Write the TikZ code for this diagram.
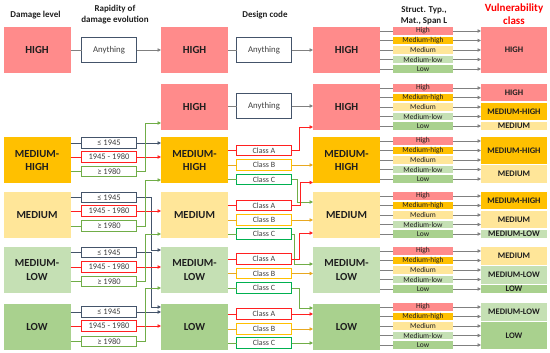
\documentclass[tikz,border=0pt]{standalone}
\usepackage{fontspec}
\setmainfont{Carlito}
\usetikzlibrary{arrows.meta,backgrounds,calc}
\definecolor{cHigh}{HTML}{FF8B8B}
\definecolor{cMH}{HTML}{FFC000}
\definecolor{cM}{HTML}{FFE699}
\definecolor{cML}{HTML}{C5E0B4}
\definecolor{cL}{HTML}{A9D18E}
\definecolor{cDark}{HTML}{44546A}
\definecolor{cRed}{HTML}{FF2020}
\definecolor{cGreen}{HTML}{70AD47}
\definecolor{cGreenB}{HTML}{00B050}
\definecolor{cOrange}{HTML}{E8A820}
\definecolor{cGrey}{HTML}{808080}
\definecolor{cText}{HTML}{1E1E1E}
\begin{document}
\begin{tikzpicture}[x=1pt,y=-1pt,
  lvl/.style={fill=#1, draw=none, minimum width=67pt, minimum height=46pt, inner sep=0pt, outer sep=0pt,
    font=\fontsize{10.8}{13.3}\selectfont\bfseries, align=center, text=cText},
  smallbox/.style={draw=#1, fill=white, line width=0.9pt, minimum width=55pt, minimum height=10.5pt,
    inner sep=0pt, outer sep=0pt, font=\fontsize{8.5}{9}\selectfont, text=black!75},
  classbox/.style={smallbox=#1, font=\fontsize{8}{9}\selectfont},
  anybox/.style={draw=cDark, fill=white, line width=0.9pt, minimum width=55pt, minimum height=25pt,
    inner sep=0pt, outer sep=0pt, font=\fontsize{8.8}{9}\selectfont, text=black!75},
  barbox/.style={fill=#1, minimum width=60pt, minimum height=7.6pt, inner sep=0pt, outer sep=0pt,
    font=\fontsize{7.5}{8}\selectfont, text=cText},
  vulbox/.style={fill=#1, minimum width=66pt, inner sep=0pt, outer sep=0pt,
    font=\fontsize{8.5}{9}\selectfont\bfseries, text=cText},
  hdr/.style={font=\fontsize{9}{11}\selectfont\bfseries, align=center, text=cText},
  ln/.style={line width=0.8pt, draw=#1},
  ar/.style={line width=0.8pt, draw=#1, -{Triangle[length=3.5pt,width=3.5pt]}}
]
\useasboundingbox (0,0) rectangle (550,353);

% headers
\node[hdr] (h1) at (35.5,15) {Damage level};
\node[hdr] (h2) at (115,14.5) {Rapidity of\\damage evolution};
\node[hdr] (h3) at (265,15) {Design code};
\node[hdr] (h4) at (424,15.5) {Struct. Typ.,\\Mat., Span L};
\node[font=\fontsize{11}{13}\selectfont\bfseries, align=center, text=red] (h5) at (514,14.5) {Vulnerability\\class};

% column 1: damage level
\node[lvl=cHigh] (d1) at (37,50) {HIGH};
\node[lvl=cMH] (dMH) at (37,160.5) {MEDIUM-\\HIGH};
\node[lvl=cM] (dM) at (37,215) {MEDIUM};
\node[lvl=cML] (dML) at (37,270) {MEDIUM-\\LOW};
\node[lvl=cL] (dL) at (37,326.5) {LOW};

% column 2: rapidity
\node[anybox] (a1) at (109,50) {Anything};
\foreach \g/\ya/\yb/\yc in {MH/143/157/171.5, M/197.5/211/226, ML/252.5/267/281.5, L/312/326/341.5}{
  \node[smallbox=cDark] (r\g1) at (109,\ya) {≤ 1945};
  \node[smallbox=cRed] (r\g2) at (109,\yb) {1945 - 1980};
  \node[smallbox=cGreen] (r\g3) at (109,\yc) {≥ 1980};
  \draw[ln=cDark] (r\g1 -| d\g.east) -- (r\g1.west);
  \draw[ln=cRed] (r\g2 -| d\g.east) -- (r\g2.west);
  \draw[ln=cGreen] (r\g3 -| d\g.east) -- (r\g3.west);
}

% column 3
\node[lvl=cHigh] (e1) at (194.5,50) {HIGH};
\node[lvl=cHigh] (e2) at (194.5,107) {HIGH};
\node[lvl=cMH] (eMH) at (194.5,160.5) {MEDIUM-\\HIGH};
\node[lvl=cM] (eM) at (194.5,215) {MEDIUM};
\node[lvl=cML] (eML) at (194.5,270) {MEDIUM-\\LOW};
\node[lvl=cL] (eL) at (194.5,326.5) {LOW};

% column 4
\node[anybox] (f1) at (264,50) {Anything};
\node[anybox] (f2) at (264,106) {Anything};
\foreach \g/\ya/\yb/\yc in {MH/150.5/165/179.5, M/205.5/220/234, ML/259/273.5/288, L/314/329/343}{
  \node[classbox=cRed] (c\g1) at (264,\ya) {Class A};
  \node[classbox=cMH] (c\g2) at (264,\yb) {Class B};
  \node[classbox=cGreenB] (c\g3) at (264,\yc) {Class C};
  \draw[ln=cRed] (c\g1 -| e\g.east) -- (c\g1.west);
  \draw[ln=cOrange] (c\g2 -| e\g.east) -- (c\g2.west);
  \draw[ln=cGreen] (c\g3 -| e\g.east) -- (c\g3.west);
}

% column 5
\node[lvl=cHigh] (g1) at (346.5,50) {HIGH};
\node[lvl=cHigh] (g2) at (346.5,107) {HIGH};
\node[lvl=cMH] (gMH) at (346.5,160.5) {MEDIUM-\\HIGH};
\node[lvl=cM] (gM) at (346.5,215) {MEDIUM};
\node[lvl=cML] (gML) at (346.5,270) {MEDIUM-\\LOW};
\node[lvl=cL] (gL) at (346.5,326.5) {LOW};

% column 6: bars
\foreach \g/\T in {1/27, 2/84, MH/137, M/192, ML/247, L/303}{
  \foreach \i/\lab/\col in {0/High/cHigh, 1/Medium-high/cMH, 2/Medium/cM, 3/Medium-low/cML, 4/Low/cL}{
    \node[barbox=\col] (b\g\i) at (423,{\T+4+9.5*\i}) {\lab};
  }
}

% column 7: vulnerability class
\node[vulbox=cHigh, minimum height=46pt] (v1) at (514,50) {HIGH};
\node[vulbox=cHigh, minimum height=17.5pt] (v2a) at (514,92.75) {HIGH};
\node[vulbox=cMH, minimum height=17.5pt] (v2b) at (514,111.75) {MEDIUM-HIGH};
\node[vulbox=cM, minimum height=8pt] (v2c) at (514,126) {MEDIUM};
\node[vulbox=cMH, minimum height=27pt] (vMHa) at (514,150.5) {MEDIUM-HIGH};
\node[vulbox=cM, minimum height=17.5pt] (vMHb) at (514,174.25) {MEDIUM};
\node[vulbox=cMH, minimum height=17.5pt] (vMa) at (514,200.75) {MEDIUM-HIGH};
\node[vulbox=cM, minimum height=17.5pt] (vMb) at (514,219.75) {MEDIUM};
\node[vulbox=cML, minimum height=8pt] (vMc) at (514,234) {MEDIUM-LOW};
\node[vulbox=cM, minimum height=17.5pt] (vMLa) at (514,255.75) {MEDIUM};
\node[vulbox=cML, minimum height=17.5pt] (vMLb) at (514,274.75) {MEDIUM-LOW};
\node[vulbox=cL, minimum height=8pt] (vMLc) at (514,289) {LOW};
\node[vulbox=cML, minimum height=17.5pt] (vLa) at (514,311.75) {MEDIUM-LOW};
\node[vulbox=cL, minimum height=27pt] (vLb) at (514,335.5) {LOW};

% grey lines through the bars
\begin{scope}[on background layer]
\foreach \g in {1,2,MH,M,ML,L}{
  \foreach \i in {0,...,4}{
    \draw[ar=cGrey] (b\g\i -| g\g.east) -- (b\g\i -| v1.west);
  }
}
\end{scope}

% row 1 and 2 (HIGH)
\draw[ln=cGrey] (d1.east) -- (a1.west);
\draw[ar=cGrey] (a1.east) -- (e1.west);
\draw[ln=cGrey] (e1.east) -- (f1.west);
\draw[ar=cGrey] (f1.east) -- (f1 -| g1.west);
\draw[ln=cGrey] (f2 -| e2.east) -- (f2.west);
\draw[ar=cGrey] (f2.east) -- (f2 -| g2.west);

% rapidity -> design level
\draw[ar=cDark] (rMH1.east) -- (rMH1 -| eMH.west);
\draw[ar=cRed] (rMH2.east) -- (rMH2 -| eMH.west);
\draw[ar=cGreen] (rMH3.east) -- ++(9,0) |- ($(e2.west)+(0,16)$);
\draw[ar=cDark] (rM1.east) -- ++(14.5,0) |- ($(eML.west)+(0,-20)$);
\draw[ar=cRed] (rM2.east) -- (rM2 -| eM.west);
\draw[ar=cGreen] (rM3.east) -- ++(9,0) |- ($(eMH.west)+(0,19.5)$);
\draw[ar=cDark] (rML1.east) -- ++(14.5,0) |- ($(eL.west)+(0,-19.5)$);
\draw[ar=cRed] (rML2.east) -- (rML2 -| eML.west);
\draw[ar=cGreen] (rML3.east) -- ++(9,0) |- ($(eM.west)+(0,19)$);
\draw[ar=cDark] (rL1.east) -- (rL1 -| eL.west);
\draw[ar=cRed] (rL2.east) -- (rL2 -| eL.west);
\draw[ar=cGreen] (rL3.east) -- ++(9,0) |- ($(eML.west)+(0,18)$);

% design code -> structural level
\draw[ar=cRed] (cMH1.east) -- ++(8,0) |- ($(g2.west)+(0,20)$);
\draw[ar=cOrange] (cMH2.east) -- (cMH2 -| gMH.west);
\draw[ar=cGreen] (cMH3.east) -- ++(6,0) |- ($(gM.west)+(0,-13)$);
\draw[ar=cRed] (cM1.east) -- ++(9,0) |- ($(gMH.west)+(0,22)$);
\draw[ar=cOrange] (cM2.east) -- (cM2 -| gM.west);
\draw[ar=cGreen] (cM3.east) -- ++(3,0) |- ($(gML.west)+(0,-6)$);
\draw[ar=cRed] (cML1.east) -- ++(8,0) |- ($(gM.west)+(0,18)$);
\draw[ar=cOrange] (cML2.east) -- (cML2 -| gML.west);
\draw[ar=cGreen] (cML3.east) -- ++(8,0) |- ($(gL.west)+(0,-18.5)$);
\draw[ar=cRed] (cL1.east) -- (cL1 -| gL.west);
\draw[ar=cOrange] (cL2.east) -- (cL2 -| gL.west);
\draw[ar=cGreen] (cL3.east) -- (cL3 -| gL.west);
\end{tikzpicture}
\end{document}
